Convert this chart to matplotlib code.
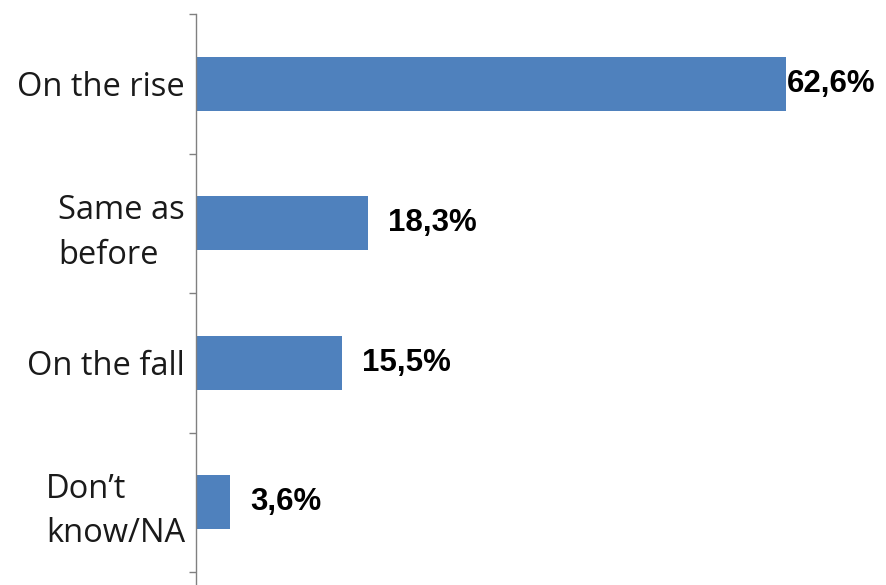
import matplotlib
matplotlib.use("Agg")
import matplotlib.pyplot as plt
from matplotlib.ticker import FixedLocator

categories = ["On the rise", "Same as\nbefore", "On the fall", "Don\u2019t\nknow/NA"]
values = [62.6, 18.3, 15.5, 3.6]
value_labels = ["62,6%", "18,3%", "15,5%", "3,6%"]

W, H = 886, 585
fig = plt.figure(figsize=(W / 100, H / 100), dpi=100)
ax = fig.add_axes([196 / W, 0, 1 - 196 / W, 1 - 14 / H])

ypos = list(range(len(categories)))
ax.barh(ypos, values, height=0.39, color="#4F81BD")

# axis ranges: 9.42 px per percent, last slot runs past the bottom edge
ax.set_xlim(0, (W - 196) / 9.42)
slot = 139.5
ax.set_ylim(3.5 + (585 - 572) / slot, -0.5)

for y, v, lab in zip(ypos, values, value_labels):
    off = 1 if v > 60 else 20
    ax.annotate(lab, (v, y), xytext=(off, 0), textcoords="offset pixels",
                va="center", ha="left", fontsize=22.5, fontweight="bold",
                family="Liberation Sans", color="black")

ax.set_yticks(ypos)
ax.set_yticklabels(categories, fontsize=23.5, family="Open Sans",
                   color="#1a1a1a", linespacing=1.45)
for t in ax.get_yticklabels():
    t.set_multialignment("left")
ax.tick_params(axis="y", which="major", length=0, pad=8)
ax.yaxis.set_minor_locator(FixedLocator([-0.5, 0.5, 1.5, 2.5, 3.5]))
ax.tick_params(axis="y", which="minor", length=5, width=1, color="#808080")
ax.set_xticks([])

for s in ["top", "right", "bottom"]:
    ax.spines[s].set_visible(False)
ax.spines["left"].set_color("#808080")
ax.spines["left"].set_linewidth(1)

fig.savefig("out.png", dpi=100)
